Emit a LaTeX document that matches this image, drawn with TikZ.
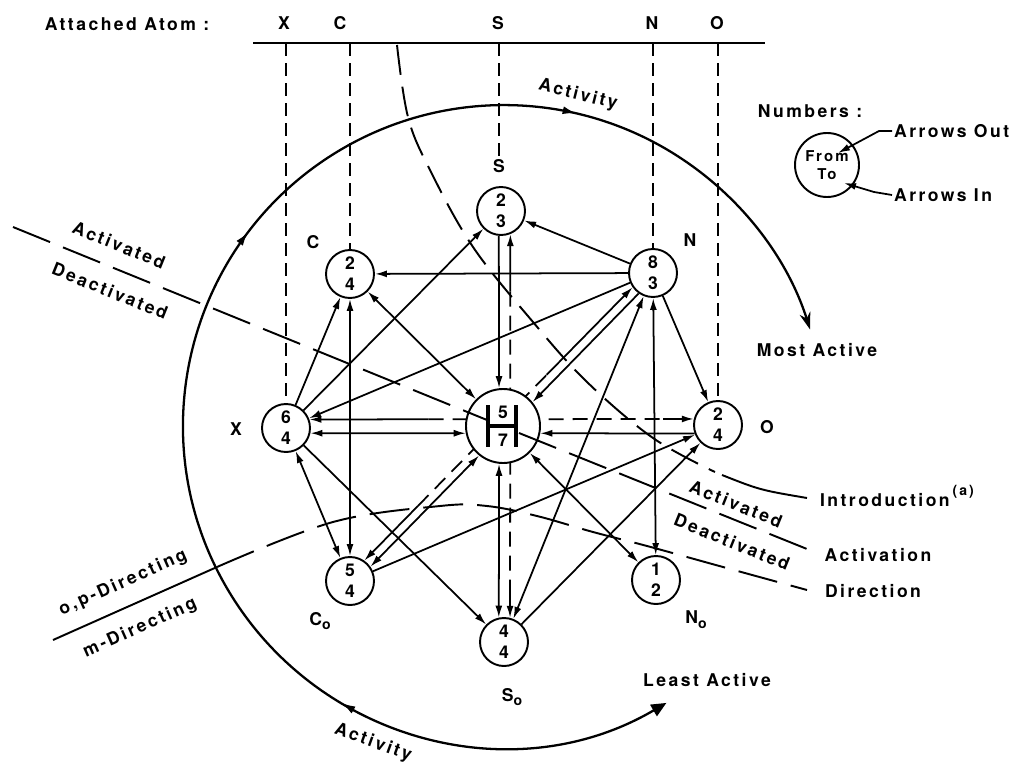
\documentclass[tikz,border=0pt]{standalone}
\usepackage{fontspec}
\setmainfont{TeX Gyre Heros}[LetterSpace=14]
\usetikzlibrary{arrows.meta,calc,decorations.markings,backgrounds}
\newcommand{\lowo}{\raisebox{-0.5ex}{\fontsize{8}{8}\selectfont o}}
\tikzset{
  base/.style={font=\fontsize{10}{12}\selectfont\bfseries, inner sep=1pt},
  lbl/.style={base},
  atom/.style={circle, draw, fill=white, line width=1.1pt, minimum size=9.6mm, inner sep=0pt, align=center, font=\fontsize{10}{12}\selectfont\bfseries},
  hub/.style={atom, minimum size=14.8mm, font=\fontsize{10}{16}\selectfont\bfseries},
  arr/.style={-{Latex[length=2.4mm,width=1.4mm]}, line width=1pt},
  arr2/.style={{Latex[length=2.4mm,width=1.4mm]}-{Latex[length=2.4mm,width=1.4mm]}, line width=1pt},
  thru/.style={line width=1pt, dash pattern=on 3mm off 1.8mm},
  drop/.style={line width=0.8pt, dash pattern=on 2.6mm off 1.4mm},
  bound/.style={line width=1.1pt, dash pattern=on 8mm off 2.8mm},
  introline/.style={line width=1.1pt, dash pattern=on 6mm off 2.4mm},
  ring/.style={line width=1.3pt},
  hbar/.style={line width=2.8pt},
}

\begin{document}
\begin{tikzpicture}[x=0.2mm, y=-0.2mm]
  \useasboundingbox (0,0) rectangle (1023,763);

  % attached atom scale
  \node[lbl] (attached) at (127,24) {Attached Atom :};
  \coordinate (barL) at (253,43);
  \coordinate (barR) at (765,43);
  \draw[line width=1.4pt] (barL) -- (barR);
  \foreach \n/\x in {X/284,C/340,S/498,N/652,O/717}
    \node[lbl] (t\n) at (\x,23) {\n};

  % activity ring
  \draw[ring, {Triangle[length=3mm,width=2.6mm]}-{Stealth[length=3.4mm,width=2.2mm]},
    postaction={decorate},
    decoration={markings,
      mark=at position 0.215 with {\arrow{Latex[length=2.8mm,width=1.6mm]}},
      mark=at position 0.557 with {\arrow{Latex[length=2.8mm,width=1.6mm]}},
      mark=at position 0.790 with {\arrow{Latex[length=2.8mm,width=1.6mm]}}}]
    (666.4,702.9) arc[start angle=59.6, end angle=342.5, radius=321];

  % atoms
  \node[atom] (S) at (501,211) {2\\3};
  \node[atom] (C) at (350,274) {2\\4};
  \node[atom] (N) at (653,273) {8\\3};
  \node[atom] (X) at (286,428) {6\\4};
  \node[hub] (H) at (503,426) {5\\7};
  \node[atom] (O) at (718,425) {2\\4};
  \node[atom] (Co) at (350,581) {5\\4};
  \node[atom] (So) at (504,642) {4\\4};
  \node[atom] (No) at (656,580) {1\\2};
  \draw[hbar] ($(H)+(-15,-21)$) -- ($(H)+(-15,21)$);
  \draw[hbar] ($(H)+(13,-21)$) -- ($(H)+(13,21)$);
  \draw[hbar] ($(H)+(-15,0)$) -- ($(H)+(13,0)$);

  \node[lbl] (lS) at (499,166) {S};
  \node[lbl] (lC) at (313,242) {C};
  \node[lbl] (lN) at (690,240) {N};
  \node[lbl] (lX) at (236,429) {X};
  \node[lbl] (lO) at (767,427) {O};
  \node[lbl] (lCo) at (320,621) {C\lowo};
  \node[lbl] (lSo) at (512,697) {S\lowo};
  \node[lbl] (lNo) at (696,620) {N\lowo};

  % drop lines from the scale
  \draw[drop] (X.north |- barL) -- (X.north);
  \draw[drop] (C.north |- barL) -- (C.north);
  \draw[drop] (lS.north |- barL) -- (lS.north);
  \draw[drop] (N.north |- barL) -- (N.north);
  \draw[drop] (O.north |- barL) -- (O.north);

  % boundaries
  \draw[introline] plot[smooth, tension=0.6] coordinates {(397,45) (408,117) (430,170) (473,247) (533,322) (587,382) (653,438) (715,472)};
  \draw[line width=1.1pt] (722,475) .. controls (760,490) .. (807,498);
  \draw[bound] (13,227) -- (487,420);
  \draw[bound] (519,433) -- (807,549);
  \draw[bound] plot[smooth, tension=0.6] coordinates {(217,567) (333,522) (440,506) (487,506) (537,516) (593,532) (647,546) (723,567) (807,590)};
  \draw[line width=1.1pt] (53,640) -- (217,567);

  % single arrows
  \draw[arr] (N) -- (S);
  \draw[arr] (X) -- (S);
  \draw[arr] (N) -- (C);
  \draw[arr] (N) -- (X);
  \draw[arr] (X) -- (C);
  \draw[arr] (N) -- (O);
  \draw[arr] (X) -- (So);
  \draw[arr] (Co) -- (O);
  \draw[arr] (So) -- (O);
  % both ways
  \draw[arr2] (C) -- (H);
  \draw[arr2] (H) -- (No);
  \draw[arr2] (C) -- (Co);
  \draw[arr2] (X) -- (Co);
  \draw[arr2] (N) -- (No);
  \draw[arr2] (N) -- (So);
  % pairs beside the hub
  \draw[arr2] (X.-12) -- (H.191);
  \draw[arr] (O.200) -- (H.-11);
  \draw[arr] (S.265) -- (H.96);
  \draw[arr2] (H.264) -- (So.102);
  \draw[arr2] (Co.35) -- (H.231);
  \draw[arr] (N.235) -- (H.39);

  % lines passing behind the hub
  \path (X.20) -- coordinate[pos=0.31] (xo1) coordinate[pos=0.92] (xo2) (O.166);
  \path (S.292) -- coordinate[pos=0.15] (ss1) coordinate[pos=0.93] (ss2) (So.76);
  \path (Co.55) -- coordinate[pos=0.2] (cn1) coordinate[pos=0.68] (cn2) (N.215);
  \draw[arr] (xo1) -- (X.20);
  \draw[arr] (xo2) -- (O.166);
  \draw[arr] (ss1) -- (S.292);
  \draw[arr] (ss2) -- (So.76);
  \draw[arr] (cn1) -- (Co.55);
  \draw[arr] (cn2) -- (N.215);
  \begin{scope}[on background layer]
    \draw[thru] (xo1) -- (xo2);
    \draw[thru] (ss1) -- (ss2);
    \draw[thru] (cn1) -- (cn2);
  \end{scope}

  % texts
  \node[lbl, rotate=-14] (actTop) at (578,95) {Activity};
  \node[lbl, rotate=-20] (actBot) at (373,743) {Activity};
  \node[lbl] (most) at (817,350) {Most Active};
  \node[lbl] (least) at (707,680) {Least Active};
  \node[lbl, anchor=west] (intro) at (818,496) {Introduction\,\raisebox{1.1ex}{\fontsize{8}{8}\selectfont(a)}};
  \node[lbl] (activ) at (878,555) {Activation};
  \node[lbl] (direc) at (873,591) {Direction};
  \node[lbl, rotate=-22] (actvL) at (119,245) {Activated};
  \node[lbl, rotate=-22] (deactL) at (110,291) {Deactivated};
  \node[lbl, rotate=-22] (actvR) at (736,504) {Activated};
  \node[lbl, rotate=-22] (deactR) at (732,542) {Deactivated};
  \node[lbl, rotate=24] (opDir) at (123,583) {o,p-Directing};
  \node[lbl, rotate=24] (mDir) at (140,628) {m-Directing};

  % legend
  \node[lbl] (numbers) at (810,111) {Numbers :};
  \node[atom, minimum size=12.8mm, font=\fontsize{8.5}{10}\selectfont\bfseries] (legend) at (827,165) {From\\To};
  \node[lbl, anchor=west] (aOut) at (892,131) {Arrows Out};
  \node[lbl, anchor=west] (aIn) at (892,195) {Arrows In};
  \coordinate (fromTip) at (838,153);
  \coordinate (toTip) at (844,183);
  \draw[arr] (aOut.west) -- ++(-13,0) -- (fromTip);
  \draw[arr] (aIn.west) -- ++(-18,-3) -- (toTip);
\end{tikzpicture}
\end{document}
